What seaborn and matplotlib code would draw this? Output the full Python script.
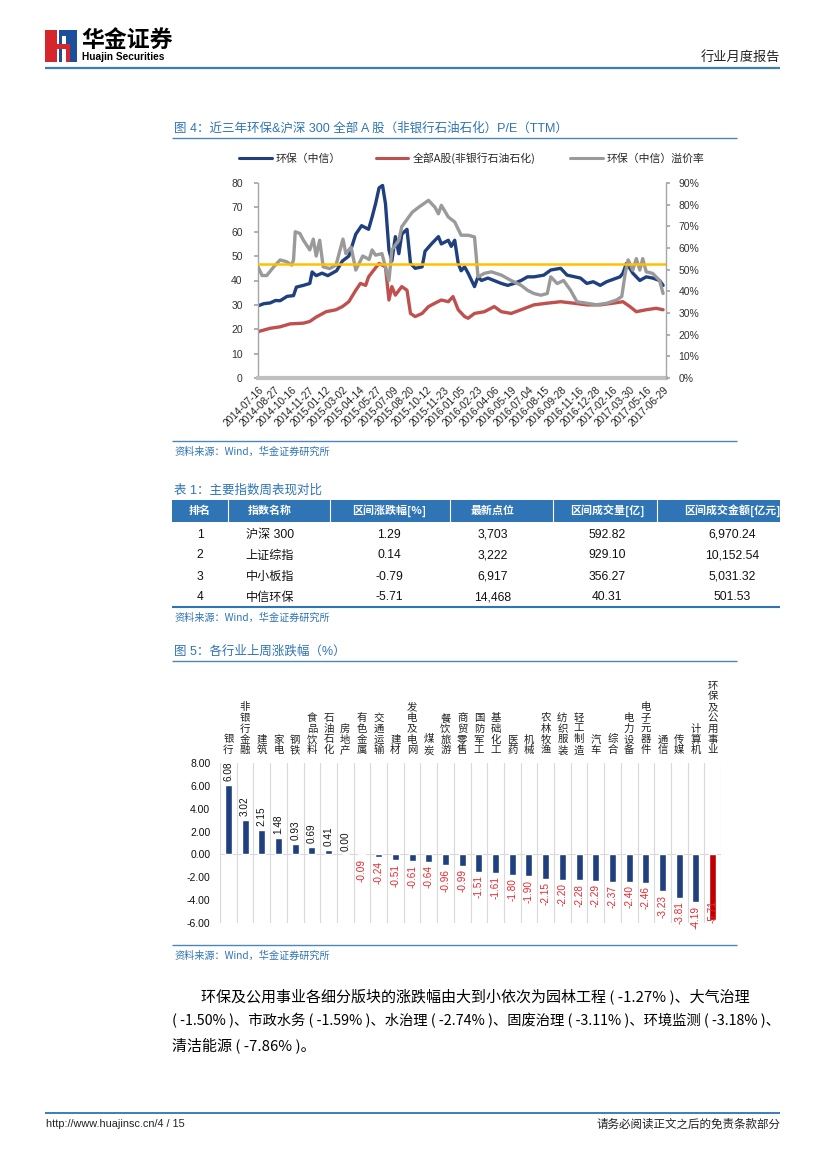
import numpy as np
import pandas as pd
import matplotlib
matplotlib.use('Agg')
import matplotlib.pyplot as plt
from matplotlib.patches import Rectangle
from matplotlib.lines import Line2D
import seaborn as sns

# ---------------------------------------------------------------- data
# Figure 4: P/E (TTM), x = trading-day index since 2014-07-16
tick_dates = ['2014-07-16', '2014-08-27', '2014-10-16', '2014-11-27', '2015-01-12',
              '2015-03-02', '2015-04-14', '2015-05-27', '2015-07-09', '2015-08-20',
              '2015-10-12', '2015-11-23', '2016-01-05', '2016-02-23', '2016-04-06',
              '2016-05-19', '2016-07-04', '2016-08-15', '2016-09-28', '2016-11-16',
              '2016-12-28', '2017-02-16', '2017-03-30', '2017-05-16', '2017-06-29']
tick_days = [0, 29, 58, 87, 116, 145, 174, 203, 232, 261, 290, 319, 348, 377, 406,
             435, 464, 493, 522, 551, 580, 609, 638, 667, 696]

env_day = [0, 10, 21, 30, 38, 50, 61, 66, 78, 89, 93, 100, 110, 120, 135, 145, 156,
           168, 178, 190, 196, 202, 208, 214, 219, 225, 230, 236, 242, 247, 256, 262,
           270, 282, 287, 298, 310, 315, 327, 332, 338, 344, 349, 355, 361, 372, 378,
           384, 395, 418, 429, 440, 452, 463, 474, 491, 503, 520, 531, 554, 565, 576,
           588, 599, 622, 627, 633, 639, 644, 656, 667, 678, 690, 696]
env_pe = [29.6, 30.5, 30.8, 31.8, 31.7, 33.5, 33.8, 37.3, 38.0, 38.8, 43.5, 42.0, 43.0,
          42.0, 44.0, 48.0, 50.0, 59.0, 62.5, 61.0, 66.0, 71.5, 78.0, 79.0, 71.5, 52.5,
          48.0, 58.0, 51.0, 59.0, 61.0, 47.0, 45.0, 45.6, 52.0, 55.0, 58.0, 55.0, 56.5,
          54.0, 56.5, 47.0, 44.0, 45.6, 43.0, 37.5, 41.5, 40.0, 41.0, 38.8, 38.0, 38.8,
          40.0, 41.5, 41.5, 42.2, 44.3, 45.0, 42.2, 41.0, 38.8, 39.5, 38.0, 39.5, 41.5,
          43.0, 47.0, 45.0, 43.0, 40.0, 41.5, 41.0, 40.0, 38.0]

mkt_day = [0, 21, 38, 55, 78, 89, 100, 117, 134, 145, 156, 168, 176, 185, 190, 199,
           208, 219, 225, 230, 236, 247, 256, 262, 270, 282, 293, 304, 315, 327, 335,
           344, 355, 361, 372, 389, 406, 418, 435, 452, 474, 497, 520, 542, 565, 588,
           610, 627, 639, 650, 667, 684, 696]
mkt_pe = [19.0, 20.4, 21.0, 22.2, 22.5, 23.2, 25.0, 27.2, 28.0, 29.3, 31.3, 36.0, 38.8,
          38.0, 41.5, 44.3, 47.0, 45.6, 32.0, 37.5, 34.0, 37.5, 36.0, 26.5, 25.2, 26.5,
          29.3, 30.7, 32.0, 31.3, 33.4, 28.0, 25.2, 24.5, 26.5, 27.2, 29.3, 27.2, 26.5,
          28.0, 30.0, 30.7, 31.3, 30.7, 30.0, 30.0, 30.7, 31.3, 29.3, 27.2, 28.0, 28.6,
          28.0]

prem_day = [0, 7, 15, 27, 38, 49, 58, 61, 64, 72, 78, 89, 95, 100, 106, 112, 123, 134,
            146, 151, 160, 168, 180, 191, 196, 202, 213, 225, 230, 242, 247, 259, 265,
            276, 293, 304, 310, 315, 327, 338, 349, 361, 372, 378, 389, 401, 418, 435,
            452, 463, 474, 486, 497, 503, 514, 525, 537, 548, 565, 582, 599, 616, 625,
            631, 636, 644, 650, 656, 661, 667, 678, 690, 696]
prem_pct = [51.3, 47.3, 47.3, 51.3, 54.5, 53.7, 52.1, 54.5, 67.5, 66.7, 63.6, 59.1,
            64.1, 56.3, 63.6, 51.3, 50.5, 52.1, 64.1, 57.4, 60.4, 49.8, 56.3, 54.7, 59.1,
            56.7, 57.4, 45.0, 59.1, 63.6, 69.8, 74.3, 76.5, 78.8, 82.0, 78.8, 75.8, 79.7,
            74.3, 72.0, 65.9, 65.9, 65.1, 46.7, 48.3, 49.0, 47.5, 45.0, 42.8, 40.5, 39.0,
            38.2, 39.0, 46.7, 43.6, 45.0, 40.5, 35.2, 34.5, 33.8, 34.5, 36.0, 37.6, 48.4,
            54.5, 49.8, 55.1, 49.8, 55.1, 49.0, 48.3, 45.0, 39.0]
avg_prem = 52.4

series_names = ['环保（中信）', '全部A股(非银行石油石化)', '环保（中信）溢价率']

# Table 1
tbl_cols = ['排名', '指数名称', '区间涨跌幅[%]', '最新点位', '区间成交量[亿]', '区间成交金额[亿元]']
tbl_rank = ['1', '2', '3', '4']
tbl_name = ['沪深 300', '上证综指', '中小板指', '中信环保']
tbl_chg = ['1.29', '0.14', '-0.79', '-5.71']
tbl_pts = ['3,703', '3,222', '6,917', '14,468']
tbl_vol = ['592.82', '929.10', '356.27', '40.31']
tbl_amt = ['6,970.24', '10,152.54', '5,031.32', '501.53']

# Figure 5
industries = ['银行', '非银行金融', '建筑', '家电', '钢铁', '食品饮料', '石油石化', '房地产',
              '有色金属', '交通运输', '建材', '发电及电网', '煤炭', '餐饮旅游', '商贸零售',
              '国防军工', '基础化工', '医药', '机械', '农林牧渔', '纺织服装', '轻工制造',
              '汽车', '综合', '电力设备', '电子元器件', '通信', '传媒', '计算机', '环保及公用事业']
changes = [6.08, 3.02, 2.15, 1.48, 0.93, 0.69, 0.41, 0.00, -0.09, -0.24, -0.51, -0.61,
           -0.64, -0.96, -0.99, -1.51, -1.61, -1.80, -1.90, -2.15, -2.20, -2.28, -2.29,
           -2.37, -2.40, -2.46, -3.23, -3.81, -4.19, -5.71]
highlight = '环保及公用事业'

# ---------------------------------------------------------------- style
BLUE = '#1F3F7F'
RED = '#C0504D'
GRAY = '#9A9A9A'
GOLD = '#FFC000'
TITLE_BLUE = '#2E74B5'
LINE_BLUE = '#4A86BC'
HDR_BLUE = '#2F75B5'
BAR_RED = '#C00000'
LBL_RED = '#E8262D'

sns.set_theme(style='white')
plt.rcParams['font.family'] = ['Liberation Sans', 'Noto Sans CJK SC', 'DejaVu Sans']
CJK = ['Noto Sans CJK SC', 'DejaVu Sans']
plt.rcParams['axes.unicode_minus'] = False

W, H = 827, 1169
fig = plt.figure(figsize=(W / 100, H / 100), dpi=100)
fig.patch.set_facecolor('white')

page = fig.add_axes([0, 0, 1, 1])
page.set_xlim(0, W)
page.set_ylim(H, 0)
page.axis('off')


def rect(x0, y0, x1, y1):
    return [x0 / W, 1 - y1 / H, (x1 - x0) / W, (y1 - y0) / H]


def T(x, y, s, **kw):
    kw.setdefault('va', 'center')
    page.text(x, y, s, **kw)


def hline(x0, x1, y, color=LINE_BLUE, lw=1.0):
    page.plot([x0, x1], [y, y], color=color, lw=lw, solid_capstyle='butt')


# ---------------------------------------------------------------- header
page.add_patch(Rectangle((45, 30), 12, 32, color='#D7262B', lw=0))
page.add_patch(Rectangle((59, 30), 18, 32, color='#1B4E9B', lw=0))
page.add_patch(Rectangle((62, 36), 4, 26, color='white', lw=0))
page.add_patch(Rectangle((57, 44), 9, 5, color='#D7262B', lw=0))
page.add_patch(Rectangle((66, 44), 4, 18, color='#D7262B', lw=0))
T(81, 41, '华金证券', fontsize=16.5, weight='bold', family=CJK, color='black')
T(82, 57, 'Huajin Securities', fontsize=7.3, weight='bold',
  family=['Liberation Sans Narrow', 'Liberation Sans'], color='black')
T(780, 57, '行业月度报告', fontsize=9.5, family=CJK, ha='right', color='#222222')
hline(45, 780, 68, color='#3C7EB6', lw=1.6)

# ---------------------------------------------------------------- figure 4
T(174, 128, '图 4：近三年环保&沪深 300 全部 A 股（非银行石油石化）P/E（TTM）',
  fontsize=9, color=TITLE_BLUE)
hline(172, 737, 138)

ax1 = fig.add_axes(rect(258, 183, 666, 378))
sns.lineplot(x=env_day, y=env_pe, ax=ax1, color=BLUE, lw=2.4, legend=False)
sns.lineplot(x=mkt_day, y=mkt_pe, ax=ax1, color=RED, lw=2.4, legend=False)
ax2 = ax1.twinx()
sns.lineplot(x=prem_day, y=prem_pct, ax=ax2, color=GRAY, lw=2.4, legend=False)
ax2.axhline(avg_prem, color=GOLD, lw=1.8)

ax1.set_xlim(0, 701)
ax1.set_ylim(0, 80)
ax2.set_ylim(0, 90)
ax1.set_yticks(range(0, 81, 10))
ax2.set_yticks(range(0, 91, 10))
ax2.set_yticklabels([f'{v}%' for v in range(0, 91, 10)])
ax1.set_xticks(tick_days)
ax1.set_xticklabels(tick_dates, rotation=45, ha='right', rotation_mode='anchor')
for a in (ax1, ax2):
    a.set_xlabel('')
    a.set_ylabel('')
    a.patch.set_alpha(0)
ax1.tick_params(axis='y', labelsize=7.5, length=3, color='#A6A6A6', pad=8,
                labelcolor='#333333', left=True)
ax2.tick_params(axis='y', labelsize=7.5, length=3, color='#A6A6A6', pad=6,
                labelcolor='#333333', right=True)
ax1.tick_params(axis='x', labelsize=7.3, length=0, pad=5, labelcolor='#222222')
for s in ('top', 'right'):
    ax1.spines[s].set_visible(False)
for s in ('top', 'left', 'bottom'):
    ax2.spines[s].set_visible(False)
ax1.spines['left'].set_color('#A6A6A6')
ax1.spines['left'].set_linewidth(1.0)
ax1.spines['bottom'].set_color('#BFBFBF')
ax1.spines['bottom'].set_linewidth(3.0)
ax2.spines['right'].set_color('#A6A6A6')
ax2.spines['right'].set_linewidth(1.0)

handles = [Line2D([], [], color=c, lw=2.2) for c in (BLUE, RED, GRAY)]
fig.legend(handles, series_names, loc='center', ncol=3, frameon=False,
           bbox_to_anchor=(472 / W, 1 - 158 / H), handlelength=3.0,
           columnspacing=3.2, handletextpad=0.4, prop={'family': CJK, 'size': 7.8})

hline(172, 737, 441)
T(174, 452, '资料来源：Wind，华金证券研究所', fontsize=7.3, color=TITLE_BLUE,
  style='italic', family=CJK)

# ---------------------------------------------------------------- table 1
T(174, 490, '表 1：主要指数周表现对比', fontsize=9, color=TITLE_BLUE)
page.add_patch(Rectangle((172, 500), 608, 22, color=HDR_BLUE, lw=0))
col_x = [200, 270, 389, 493, 607, 732]
for xs in (228, 330, 450, 553, 657):
    page.plot([xs, xs], [500, 522], color='white', lw=0.8)
for cx, c in zip(col_x, tbl_cols):
    T(cx, 511, c, fontsize=7.9, weight='bold', color='white', ha='center', family=CJK)
rows_y = [533, 554, 575, 596]
for i, ry in enumerate(rows_y):
    vals = [tbl_rank[i], tbl_name[i], tbl_chg[i], tbl_pts[i], tbl_vol[i], tbl_amt[i]]
    for cx, v in zip(col_x, vals):
        T(cx, ry + 4.5, v, fontsize=8.7, ha='center', va='baseline', color='#111111')
hline(172, 780, 607, color=HDR_BLUE, lw=1.5)
T(174, 618, '资料来源：Wind，华金证券研究所', fontsize=7.3, color=TITLE_BLUE,
  style='italic', family=CJK)

# ---------------------------------------------------------------- figure 5
T(174, 651, '图 5：各行业上周涨跌幅（%）', fontsize=9, color=TITLE_BLUE)
hline(172, 737, 661)

ax3 = fig.add_axes(rect(220, 763, 721, 923))
df5 = pd.DataFrame({'industry': industries, 'chg': changes})
palette = {n: (BAR_RED if n == highlight else BLUE) for n in industries}
sns.barplot(data=df5, x='industry', y='chg', hue='industry', palette=palette,
            legend=False, width=0.42, saturation=1, ax=ax3, zorder=3)
ax3.set_xlim(-0.5, len(industries) - 0.5)
ymin, ymax = -6, 8
ax3.set_ylim(ymin, ymax)
ax3.set_yticks(range(ymin, ymax + 1, 2))
ax3.set_yticklabels([f'{v:.2f}' for v in range(ymin, ymax + 1, 2)])
ax3.set_xticks([])
ax3.set_xlabel('')
ax3.set_ylabel('')
ax3.tick_params(axis='y', labelsize=7.5, length=0, pad=7, labelcolor='#111111')
for s in ax3.spines.values():
    s.set_visible(False)
for k in range(len(industries) + 1):
    ax3.axvline(k - 0.5, color='#D9D9D9', lw=0.8, zorder=0)
ax3.axhline(0, color='#D9D9D9', lw=0.8, zorder=1)
for i, (n, v) in enumerate(zip(industries, changes)):
    if v >= 0:
        ax3.annotate(f'{v:.2f}', (i, v), xytext=(0, 2.5), textcoords='offset points',
                     rotation=90, ha='center', va='bottom', fontsize=7.2, color='#111111')
    elif v < ymin + 1:
        # label would fall out of the plot: keep it at the bottom, over the bar
        ax3.annotate(f'{v:.2f}', (i, ymin), xytext=(0, 0), textcoords='offset points',
                     rotation=90, ha='center', va='bottom', fontsize=7.2, color=LBL_RED,
                     zorder=5)
    else:
        ax3.annotate(f'{v:.2f}', (i, v), xytext=(0, -2.5), textcoords='offset points',
                     rotation=90, ha='center', va='top', fontsize=7.2, color=LBL_RED)
    ax3.annotate('\n'.join(n), (i, 1.0), xycoords=('data', 'axes fraction'),
                 xytext=(0, 5.5), textcoords='offset points', ha='center', va='bottom',
                 fontsize=7.5, linespacing=1.1, family=CJK, color='#222222')

hline(172, 737, 945)
T(174, 956, '资料来源：Wind，华金证券研究所', fontsize=7.3, color=TITLE_BLUE,
  style='italic', family=CJK)

# ---------------------------------------------------------------- body text
body = ['环保及公用事业各细分版块的涨跌幅由大到小依次为园林工程 ( -1.27% )、大气治理',
        '( -1.50% )、市政水务 ( -1.59% )、水治理 ( -2.74% )、固废治理 ( -3.11% )、环境监测 ( -3.18% )、',
        '清洁能源 ( -7.86% )。']
T(201, 996, body[0], fontsize=10.8, family=CJK, color='black')
T(172, 1021, body[1], fontsize=10.3, family=CJK, color='black')
T(172, 1045, body[2], fontsize=10.8, family=CJK, color='black')

# ---------------------------------------------------------------- footer
hline(45, 780, 1113, color='#3C7EB6', lw=1.4)
T(46, 1124, 'http://www.huajinsc.cn/4 / 15', fontsize=7.8, color='#222222')
T(780, 1124, '请务必阅读正文之后的免责条款部分', fontsize=8.3, family=CJK, ha='right',
  color='#222222')

fig.savefig('out.png', dpi=100, facecolor='white')
